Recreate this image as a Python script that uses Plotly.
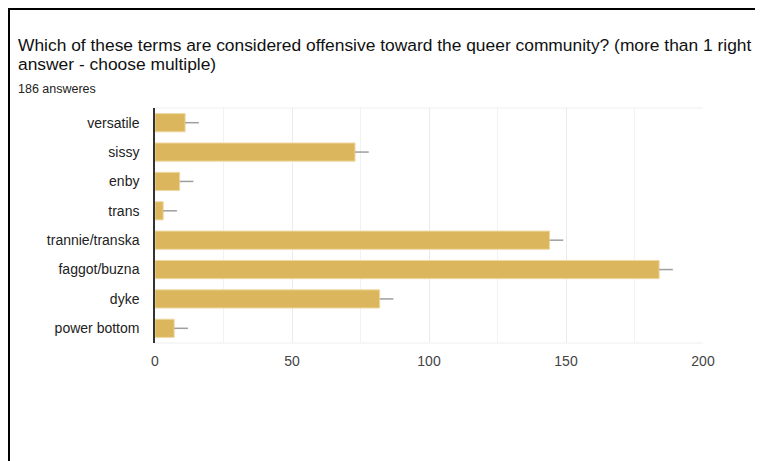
import plotly.graph_objects as go

categories = ["versatile", "sissy", "enby", "trans", "trannie/transka",
              "faggot/buzna", "dyke", "power bottom"]
counts = [11, 73, 9, 3, 144, 184, 82, 7]
err_plus = [5, 5, 5, 5, 5, 5, 5, 5]
err_minus = [0, 0, 0, 0, 0, 0, 0, 0]
x_ticks = [0, 50, 100, 150, 200]

title_line1 = "Which of these terms are considered offensive toward the queer community? (more than 1 right"
title_line2 = "answer - choose multiple)"
subtitle = "186 answeres"

# page has an 8px body margin, so the figure is sized to fit and coordinates shifted
OFF = 8
W, H = 763 - OFF, 461 - OFF
L, R, T, B = 155 - OFF, 60, 108 - OFF, 118
pw, ph = W - L - R, H - T - B

def px(x):
    return (x - OFF - L) / pw

def py(y):
    return (H - B - (y - OFF)) / ph

fig = go.Figure(go.Bar(
    y=categories, x=counts, orientation="h",
    marker=dict(color="#DBB65C", line=dict(color="#EFD9A3", width=1)),
    error_x=dict(type="data", symmetric=False, array=err_plus, arrayminus=err_minus,
                 color="#9E9E9E", thickness=1.5, width=0),
    width=0.62,
))

fig.update_layout(
    width=W, height=H,
    margin=dict(l=L, r=R, t=T, b=B),
    paper_bgcolor="white", plot_bgcolor="white",
    font=dict(family="Liberation Sans, Arial, sans-serif", color="#222"),
    showlegend=False,
    xaxis=dict(range=[0, 200], tickvals=x_ticks, showgrid=True, gridcolor="#EBEBEB",
               gridwidth=1, zeroline=False, showline=False, ticklabelstandoff=8,
               tickfont=dict(size=14, color="#444"),
               minor=dict(dtick=25, showgrid=True, gridcolor="#F2F2F2", gridwidth=1),
               fixedrange=True),
    yaxis=dict(autorange="reversed", showline=True, linecolor="#333", linewidth=1.5,
               ticks="", ticklabelstandoff=11, tickfont=dict(size=14, color="#222"),
               showgrid=False),
    shapes=[
        dict(type="line", xref="paper", yref="paper", x0=px(6), x1=px(763 + 5),
             y0=py(8), y1=py(8), line=dict(color="black", width=4)),
        dict(type="line", xref="paper", yref="paper", x0=px(8.5), x1=px(8.5),
             y0=py(6), y1=py(470), line=dict(color="black", width=3)),
        dict(type="line", xref="paper", yref="paper", x0=0, x1=1,
             y0=1, y1=1, line=dict(color="#EEEEEE", width=1)),
        dict(type="line", xref="paper", yref="paper", x0=0, x1=1,
             y0=0, y1=0, line=dict(color="#EEEEEE", width=1)),
    ],
    annotations=[
        dict(text=title_line1, xref="paper", yref="paper", x=px(16), y=py(45),
             xanchor="left", yanchor="middle", showarrow=False,
             font=dict(size=17.4, color="#111")),
        dict(text=title_line2, xref="paper", yref="paper", x=px(16), y=py(64),
             xanchor="left", yanchor="middle", showarrow=False,
             font=dict(size=17.4, color="#111")),
        dict(text=subtitle, xref="paper", yref="paper", x=px(16), y=py(89),
             xanchor="left", yanchor="middle", showarrow=False,
             font=dict(size=12.5, color="#222")),
    ],
)

fig.write_html("out.html")
